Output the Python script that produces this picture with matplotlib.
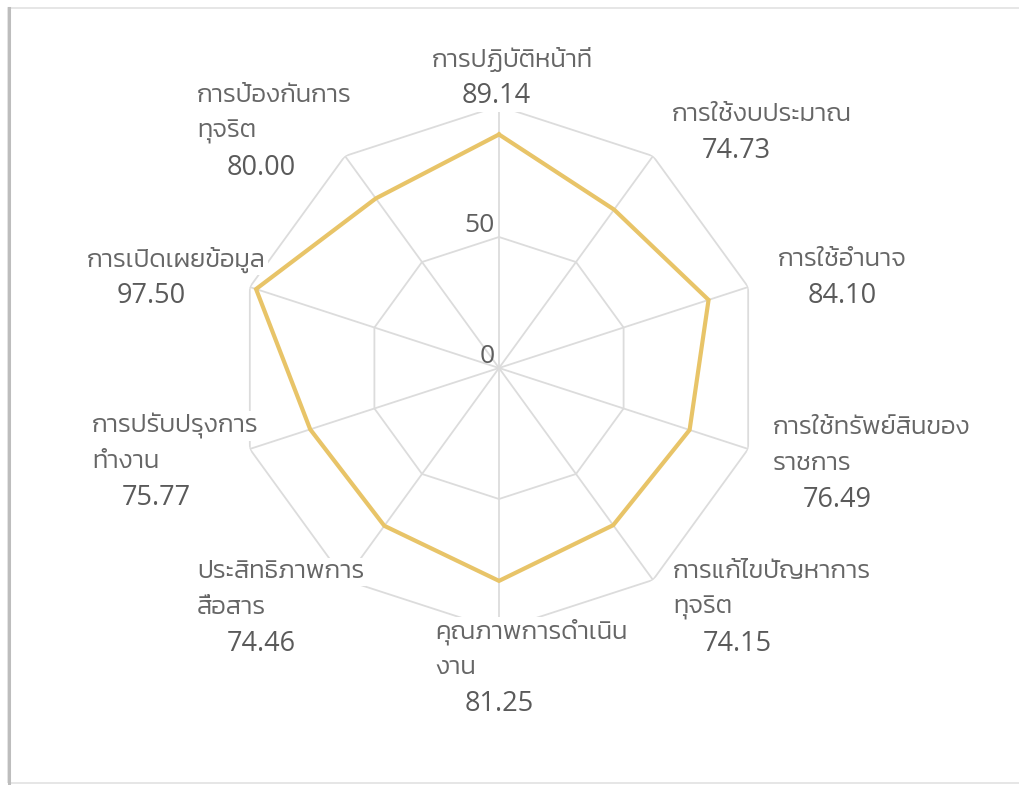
import numpy as np
import matplotlib
matplotlib.use('Agg')
import matplotlib.pyplot as plt
from matplotlib.patches import Rectangle
from matplotlib.lines import Line2D

# ข้อมูลคะแนนแต่ละด้าน
labels = ['การปฏิบัติหน้าที่', 'การใช้งบประมาณ', 'การใช้อำนาจ',
          'การใช้ทรัพย์สินของ\nราชการ', 'การแก้ไขปัญหาการ\nทุจริต',
          'คุณภาพการดำเนิน\nงาน', 'ประสิทธิภาพการ\nสื่อสาร',
          'การปรับปรุงการ\nทำงาน', 'การเปิดเผยข้อมูล', 'การป้องกันการ\nทุจริต']
scores = [89.14, 74.73, 84.10, 76.49, 74.15, 81.25, 74.46, 75.77, 97.50, 80.00]
ring_ticks = [0, 50, 100]

thai = ['Kanit', 'Prompt', 'Bai Jamjuree', 'DejaVu Sans']
nums = ['Open Sans', 'Noto Sans', 'DejaVu Sans']
plt.rcParams['font.family'] = thai

W, H = 1019, 785
fig = plt.figure(figsize=(W / 100, H / 100), dpi=100)

# กรอบรูป
fig.add_artist(Rectangle((8 / W, 2 / H), 1.2, (H - 10) / H, transform=fig.transFigure,
                         facecolor='none', edgecolor='#e2e2e2', lw=1.2, zorder=-1))
fig.add_artist(Line2D([8.5 / W, 8.5 / W], [2 / H, (H - 8) / H], transform=fig.transFigure,
                      color='#bdbdbd', lw=2.2, zorder=-1))

# แกนเรดาร์ (จุดศูนย์กลางและรัศมีเป็นพิกเซล)
cx, cy, R = 499, 368, 262
ax = fig.add_axes([(cx - R) / W, (H - cy - R) / H, 2 * R / W, 2 * R / H], projection='polar')
ax.set_theta_zero_location('N')
ax.set_theta_direction(-1)
ax.set_ylim(0, 100)
ax.grid(False)
ax.spines['polar'].set_visible(False)
ax.set_xticks([])
ax.set_yticks([])
ax.patch.set_alpha(0)

n = len(scores)
angles = np.linspace(0, 2 * np.pi, n, endpoint=False)
closed = np.append(angles, angles[0])

grid_c = '#dcdcdc'
for r in ring_ticks[1:]:
    ax.plot(closed, [r] * (n + 1), color=grid_c, lw=1.3, zorder=1)
for a in angles:
    ax.plot([a, a], [0, ring_ticks[-1]], color=grid_c, lw=1.3, zorder=1)

ax.plot(closed, scores + scores[:1], color='#e8c468', lw=3.0, zorder=3,
        solid_joinstyle='miter')

# ป้ายค่าแกน 0 และ 50
for r in ring_ticks[:2]:
    ax.annotate(str(r), xy=(0, r), xytext=(-3, 8), textcoords='offset points',
                ha='right', va='center', fontsize=19, color='#5f5f5f',
                family=nums, zorder=4)

# ตำแหน่งป้ายชื่อ (ซ้ายของบรรทัดแรก, พิกเซล)
label_pos = [(432, 60), (672, 115), (778, 260), (773, 428), (673, 572),
             (435, 632), (197, 572), (92, 426), (87, 260), (197, 96)]
line_gap = 36
box = dict(facecolor='white', edgecolor='none', pad=1.5)
for lab, v, (x, y) in zip(labels, scores, label_pos):
    lines = lab.split('\n')
    for i, ln in enumerate(lines):
        fig.text(x / W, 1 - (y + i * line_gap) / H, ln, ha='left', va='center',
                 fontsize=18.5, fontweight=300, color='#666666', bbox=box)
    yv = y + len(lines) * line_gap
    fig.text((x + 30) / W, 1 - yv / H, f'{v:.2f}', ha='left', va='center',
             fontsize=19.5, color='#5a5a5a', family=nums, bbox=box)

fig.savefig('out.png', dpi=100)
